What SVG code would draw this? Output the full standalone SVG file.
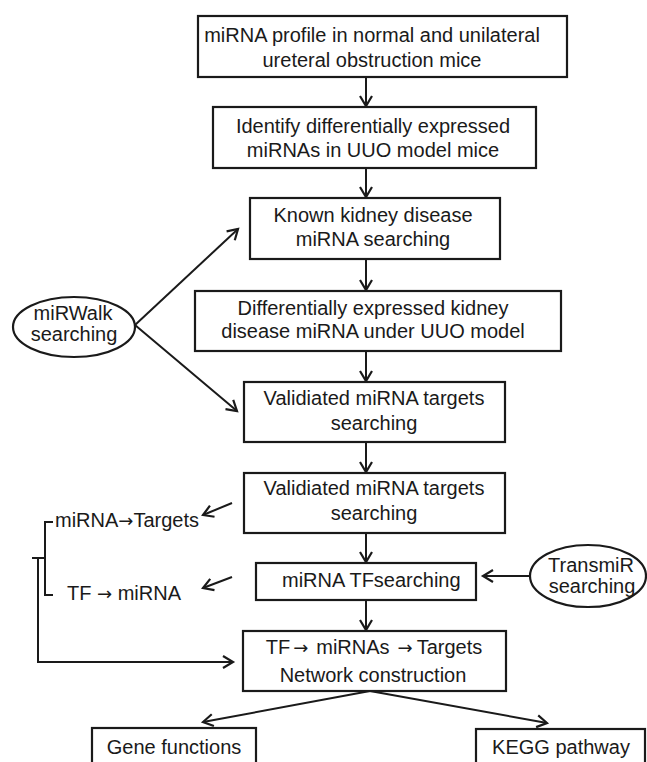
<svg xmlns="http://www.w3.org/2000/svg" width="647" height="762" viewBox="0 0 647 762">
<defs>
<marker id="ah" markerUnits="userSpaceOnUse" markerWidth="16" markerHeight="16" refX="0" refY="0" viewBox="-12 -8 14 16" orient="auto" overflow="visible">
<path d="M-10,-6 L0,0 L-10,6" fill="none" stroke="#1a1a1a" stroke-width="2.2" stroke-linejoin="miter"/>
</marker>
</defs>
<style>
.box{fill:#fff;stroke:#1a1a1a;stroke-width:2.2}
.t{font-family:"Liberation Sans",Arial,sans-serif;font-size:20px;fill:#1a1a1a;text-anchor:middle}
.ts{font-family:"Liberation Sans",Arial,sans-serif;font-size:20px;fill:#1a1a1a}
.ar{font-family:"DejaVu Sans",sans-serif;font-size:18px}
.c{fill:none;stroke:#1a1a1a;stroke-width:2}
.a{marker-end:url(#ah)}
</style>
<rect width="647" height="762" fill="#fff"/>
<g id="connectors">
<path class="c a" d="M366,77 V106"/>
<path class="c a" d="M366,168 V197"/>
<path class="c a" d="M366,259 V290"/>
<path class="c a" d="M366,351 V381"/>
<path class="c a" d="M366,442 V472"/>
<path class="c a" d="M366,533 V562"/>
<path class="c a" d="M366,600 V630"/>
<path class="c a" d="M135,325 L238,229"/>
<path class="c a" d="M135,325 L237,411"/>
<path class="c a" d="M232,503 L203,515"/>
<path class="c a" d="M232,577 L203,588"/>
<path class="c a" d="M530,576 H483"/>
<path class="c" d="M53,522 H45 V595 H53"/>
<path class="c" d="M32,558 H45"/>
<path class="c a" d="M38,558 V662 H233"/>
<path class="c a" d="M370,691 L203,722"/>
<path class="c a" d="M370,691 L547,723"/>
</g>
<g id="n1"><rect class="box" x="198" y="16" width="369" height="61"/>
<text class="t" x="372" y="42">miRNA profile in normal and unilateral</text>
<text class="t" x="372" y="67">ureteral obstruction mice</text></g>
<g id="n2"><rect class="box" x="213" y="107" width="323" height="61"/>
<text class="t" x="373" y="133">Identify differentially expressed</text>
<text class="t" x="373" y="157">miRNAs in UUO model mice</text></g>
<g id="n3"><rect class="box" x="250" y="198" width="250" height="61"/>
<text class="t" x="373" y="222">Known kidney disease</text>
<text class="t" x="373" y="246">miRNA searching</text></g>
<g id="n4"><rect class="box" x="195" y="291" width="366" height="60"/>
<text class="t" x="373" y="315">Differentially expressed kidney</text>
<text class="t" x="373" y="338">disease miRNA under UUO model</text></g>
<g id="n5"><rect class="box" x="244" y="382" width="261" height="60"/>
<text class="t" x="374" y="405">Validiated miRNA targets</text>
<text class="t" x="374" y="430">searching</text></g>
<g id="n6"><rect class="box" x="244" y="473" width="261" height="60"/>
<text class="t" x="374" y="495">Validiated miRNA targets</text>
<text class="t" x="374" y="520">searching</text></g>
<g id="n7"><rect class="box" x="256" y="563" width="220" height="37"/>
<text class="ts" x="282" y="587">miRNA TFsearching</text></g>
<g id="n8"><rect class="box" x="243" y="631" width="263" height="60"/>
<text class="t" x="374" y="654">TF<tspan class="ar" dx="3">→</tspan><tspan dx="8">miRNAs</tspan><tspan class="ar" dx="8">→</tspan><tspan dx="4">Targets</tspan></text>
<text class="t" x="373" y="682">Network construction</text></g>
<g id="n9"><rect class="box" x="92" y="728" width="164" height="40"/>
<text class="t" x="174" y="754">Gene functions</text></g>
<g id="n10"><rect class="box" x="476" y="729" width="169" height="40"/>
<text class="t" x="561" y="754">KEGG pathway</text></g>
<g id="miRWalk"><ellipse class="box" cx="74" cy="327" rx="61" ry="30"/>
<text class="t" x="73" y="320">miRWalk</text>
<text class="t" x="74" y="341">searching</text></g>
<g id="TransmiR"><ellipse class="box" cx="588" cy="576" rx="58" ry="31"/>
<text class="t" x="591" y="572">TransmiR</text>
<text class="t" x="592" y="593">searching</text></g>
<g id="lab1"><text class="ts" x="55" y="527">miRNA<tspan class="ar">→</tspan>Targets</text></g>
<g id="lab2"><text class="ts" x="67" y="600">TF <tspan class="ar">→</tspan> miRNA</text></g>
</svg>
